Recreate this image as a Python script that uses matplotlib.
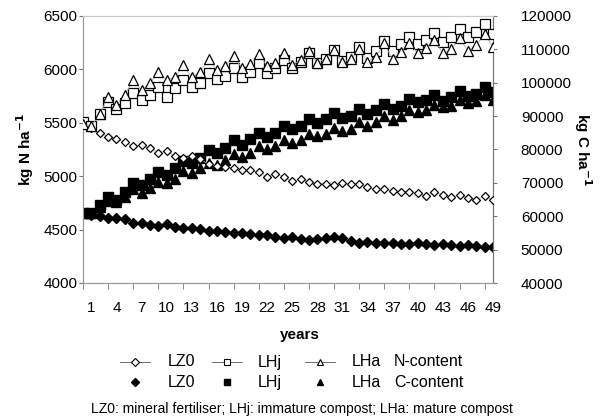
import numpy as np
import matplotlib
matplotlib.use("Agg")
import matplotlib.pyplot as plt
from matplotlib.lines import Line2D

plt.rcParams['font.family'] = ['Liberation Sans', 'DejaVu Sans']

years = np.arange(0, 50)

# N-content, kg N/ha (left axis)
lz0_n = [5500, 5450, 5405, 5370, 5350, 5320, 5280, 5290, 5260, 5220,
         5235, 5185, 5170, 5185, 5160, 5110, 5095, 5085, 5075, 5060,
         5060, 5035, 4995, 5025, 4995, 4955, 4970, 4950, 4930, 4925,
         4920, 4935, 4930, 4925, 4895, 4880, 4880, 4860, 4855, 4855,
         4840, 4815, 4855, 4825, 4805, 4825, 4800, 4780, 4815, 4775]
lhj_n = [5510, 5470, 5580, 5697, 5626, 5688, 5782, 5713, 5760, 5832,
         5744, 5822, 5900, 5832, 5875, 5965, 5910, 5940, 6009, 5928,
         5978, 6056, 5970, 6015, 6090, 6009, 6071, 6149, 6056, 6093,
         6178, 6078, 6112, 6212, 6103, 6174, 6268, 6174, 6237, 6300,
         6237, 6274, 6343, 6259, 6300, 6375, 6300, 6346, 6424, 6331]
lha_n = [5490, 5470, 5580, 5744, 5667, 5760, 5900, 5806, 5869, 5978,
         5900, 5931, 6040, 5925, 5978, 6095, 5994, 6035, 6125, 6009,
         6048, 6140, 6035, 6060, 6149, 6040, 6087, 6174, 6062, 6102,
         6180, 6071, 6094, 6187, 6071, 6118, 6243, 6094, 6165, 6249,
         6150, 6197, 6274, 6150, 6187, 6290, 6174, 6228, 6331, 6212]

# C-content, kg C/ha (right axis)
lz0_c = [61000, 60500, 60200, 59600, 59400, 59100, 58100, 58100, 57400, 57200,
         57700, 56700, 56400, 56400, 56100, 55700, 55700, 55400, 55100, 55100,
         54700, 54400, 54400, 53900, 53600, 53900, 53100, 52900, 53100, 53600,
         53700, 53600, 52700, 52100, 52400, 52100, 52100, 52100, 51700, 51700,
         52100, 51700, 51400, 51700, 51400, 51100, 51400, 51100, 50700, 50900]
lhj_c = [61100, 61100, 63400, 65700, 64900, 67400, 70100, 69400, 71100, 73400,
         72400, 74400, 76700, 76100, 77400, 79900, 78900, 80400, 82700, 81400,
         83100, 84900, 83700, 84900, 86900, 86000, 86900, 89100, 87900, 89100,
         90800, 89400, 89900, 92100, 90700, 91700, 93700, 92100, 93100, 95100,
         94100, 94900, 96400, 94500, 95700, 97400, 96100, 96700, 98700, 97100]
lha_c = [61000, 61000, 62800, 64500, 64300, 65900, 68100, 67100, 68500, 70400,
         70100, 71100, 73700, 72900, 74400, 75900, 75400, 76900, 78700, 77700,
         78900, 80900, 80100, 80900, 82700, 81900, 82900, 84700, 83900, 84700,
         86400, 85400, 86100, 88100, 87100, 88100, 89900, 88700, 89900, 91700,
         91100, 91700, 93400, 92700, 93100, 94900, 93900, 94500, 96400, 94900]

xtick_years = list(range(1, 50, 3))

fig = plt.figure(figsize=(6.06, 4.19), dpi=100)
ax = fig.add_axes([83/606, 1-283/419, 410/606, 267/419])
ax2 = ax.twinx()

line_kw = dict(color='#b0b0b0', lw=0.6, mfc='white', mec='black', mew=0.9)
ax.plot(years, lz0_n, marker='D', ms=4.2, **line_kw, zorder=3)
ax.plot(years, lhj_n, marker='s', ms=6.5, **line_kw, zorder=3)
ax.plot(years, lha_n, marker='^', ms=7, **line_kw, zorder=3)

ax2.plot(years, lz0_c, ls='none', marker='D', ms=5, color='black')
ax2.plot(years, lhj_c, ls='none', marker='s', ms=6.5, color='black')
ax2.plot(years, lha_c, ls='none', marker='^', ms=6.5, color='black')

ax.set_xlim(0, 49)
ax.set_ylim(4000, 6500)
ax2.set_ylim(40000, 120000)
ax.set_yticks(range(4000, 6501, 500))
ax2.set_yticks(range(40000, 120001, 10000))
ax.set_xticks(xtick_years)
ax.set_xticks(range(0, 49, 3), minor=True)
ax.tick_params(axis='x', which='major', length=0, pad=13, labelsize=11)
ax.tick_params(axis='x', which='minor', length=4, color='#777777')
ax.tick_params(axis='y', length=3, pad=1, labelsize=11, color='#777777')
ax2.tick_params(axis='y', length=3, pad=17, labelsize=11, color='#777777')

for a in (ax, ax2):
    a.spines['top'].set_color('#cccccc')
    a.spines['left'].set_color('#999999')
    a.spines['bottom'].set_color('#999999')
    a.spines['right'].set_color('#777777')
ax.set_zorder(ax2.get_zorder() + 1)
ax.patch.set_visible(False)

ax.set_ylabel('kg N ha$^{\\mathbf{-1}}$', fontsize=11, fontweight='bold', labelpad=5)
ax2.set_ylabel('kg C ha$^{\\mathbf{-1}}$', fontsize=11, fontweight='bold',
               rotation=270, labelpad=16)
fig.text(300/606, 1-335/419, 'years', ha='center', va='center',
         fontsize=11, fontweight='bold')

# legend drawn by hand (two rows)
W, H = 606, 419
def fx(x):
    return x / W
def fy(y):
    return 1 - y / H

rows = [(362, 'N-content', True), (382, 'C-content', False)]
names = ['LZ0', 'LHj', 'LHa']
marks = ['D', 's', '^']
centers = [135, 227, 320]
label_x = [168, 258, 352]
for y, lab, is_open in rows:
    for c, lx, m, n in zip(centers, label_x, marks, names):
        if is_open:
            fig.add_artist(Line2D([fx(c - 15), fx(c + 15)], [fy(y), fy(y)],
                                  color='#555555', lw=0.6))
            fig.add_artist(Line2D([fx(c)], [fy(y)], marker=m,
                                  ms=4 if m == 'D' else 5,
                                  mfc='white', mec='black', mew=0.8, ls='none'))
        else:
            fig.add_artist(Line2D([fx(c)], [fy(y)], marker=m,
                                  ms=4.5 if m == 'D' else 5,
                                  color='black', ls='none'))
        fig.text(fx(lx), fy(y), n, ha='left', va='center', fontsize=11.5)
    fig.text(fx(394), fy(y), lab, ha='left', va='center', fontsize=11.5)

fig.text(fx(302), fy(409),
         'LZ0: mineral fertiliser; LHj: immature compost; LHa: mature compost',
         ha='center', va='center', fontsize=10)

fig.savefig('out.png', dpi=100)
